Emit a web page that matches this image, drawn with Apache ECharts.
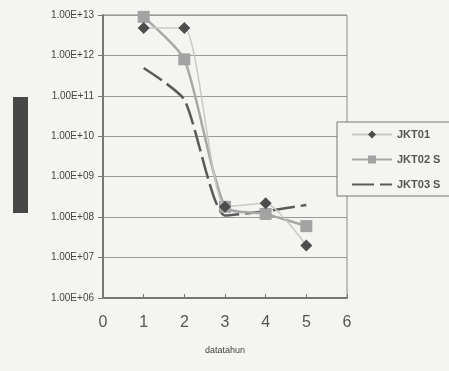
<!DOCTYPE html>
<html>
<head>
<meta charset="utf-8">
<script src="https://cdn.jsdelivr.net/npm/echarts@6/dist/echarts.min.js"></script>
<style>
html, body { margin: 0; padding: 0; background: #f4f4f1; }
#chart { width: 449px; height: 371px; }
</style>
</head>
<body>
<div id="chart"></div>
<script>
const chart = echarts.init(document.getElementById("chart"));

// data tahun 1..5
const years = [1, 2, 3, 4, 5];
const jkt01 = [4.8e12, 4.8e12, 1.8e8, 2.2e8, 2.0e7];
const jkt02 = [9.0e12, 8.0e11, 1.8e8, 1.2e8, 6.0e7];
const jkt03 = [4.9e11, 8.0e10, 1.1e8, 1.4e8, 2.0e8];
const names = ["JKT01", "JKT02 S", "JKT03 S"];

const pairs = (vals) => years.map((x, i) => [x, vals[i]]);

const option = {
	backgroundColor: "#f4f4f1",
	textStyle: { fontFamily: "Liberation Sans" },
	grid: {
		left: 103, right: 102, top: 15, bottom: 73,
		show: true, borderColor: "#888", borderWidth: 1
	},
	graphic: [{
		type: "rect",
		shape: { x: 13, y: 97, width: 15, height: 116 },
		style: { fill: "#474747" }
	}],
	legend: {
		left: 337,
		top: 122,
		orient: "vertical",
		itemWidth: 40,
		itemHeight: 10,
		itemGap: 14,
		padding: [7, 10, 6, 14],
		borderColor: "#777",
		borderWidth: 1,
		backgroundColor: "#f4f4f1",
		textStyle: { fontSize: 11, fontWeight: "bold", color: "#555" },
		data: [names[0], names[1], { name: names[2], itemStyle: { opacity: 0 } }]
	},
	xAxis: {
		type: "value",
		min: 0,
		max: 6,
		interval: 1,
		name: "datatahun",
		nameLocation: "middle",
		nameGap: 48,
		nameTextStyle: { fontSize: 9, color: "#444" },
		axisLine: { lineStyle: { color: "#777", width: 2 } },
		axisTick: { show: true, inside: true, length: 4, lineStyle: { color: "#777" } },
		axisLabel: { fontSize: 16, color: "#555", margin: 17 },
		splitLine: { show: false }
	},
	yAxis: {
		type: "log",
		logBase: 10,
		min: 1e6,
		max: 1e13,
		axisLine: { show: true, lineStyle: { color: "#777", width: 2 } },
		axisTick: { show: true, length: 5, lineStyle: { color: "#777" } },
		axisLabel: {
			fontSize: 10,
			color: "#444",
			margin: 9,
			formatter: (v) => "1.00E+" + String(Math.round(Math.log10(v))).padStart(2, "0")
		},
		splitLine: { lineStyle: { color: "#999", width: 1 } },
		minorTick: { show: false }
	},
	series: [
		{
			name: names[0],
			type: "line",
			smooth: 0.2,
			data: pairs(jkt01),
			symbol: "diamond",
			symbolSize: 12,
			itemStyle: { color: "#4d4d4d" },
			lineStyle: { color: "#c8c8c8", width: 1.5 },
			z: 3
		},
		{
			name: names[1],
			type: "line",
			smooth: 0.2,
			data: pairs(jkt02),
			symbol: "rect",
			symbolSize: 12,
			itemStyle: { color: "#a3a3a3" },
			lineStyle: { color: "#a8a8a8", width: 2.5 },
			z: 2
		},
		{
			name: names[2],
			type: "line",
			smooth: 0.2,
			data: pairs(jkt03),
			showSymbol: false,
			symbol: "none",
			itemStyle: { color: "#5a5a5a" },
			lineStyle: { color: "#5a5a5a", width: 2.5, type: [22, 6] },
			z: 1
		}
	]
};

chart.setOption(option);
window.onresize = chart.resize;
</script>
</body>
</html>
